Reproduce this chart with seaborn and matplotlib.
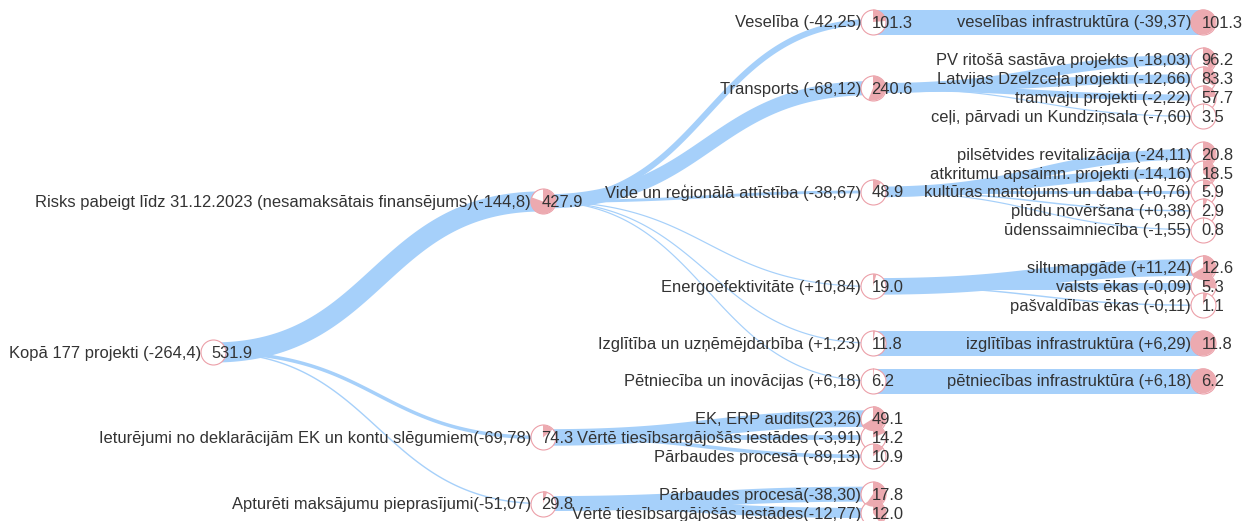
import numpy as np
import matplotlib
matplotlib.use("Agg")
import matplotlib.pyplot as plt
import seaborn as sns
import pandas as pd

# ---------------- data ----------------
node_labels = [
    "Kopā 177 projekti (-264,4)",
    "Risks pabeigt līdz 31.12.2023 (nesamaksātais finansējums)(-144,8)",
    "Veselība (-42,25)",
    "veselības infrastruktūra (-39,37)",
    "Transports (-68,12)",
    "PV ritošā sastāva projekts (-18,03)",
    "Latvijas Dzelzceļa projekti (-12,66)",
    "tramvaju projekti (-2,22)",
    "ceļi, pārvadi un Kundziņsala (-7,60)",
    "Vide un reģionālā attīstība (-38,67)",
    "pilsētvides revitalizācija (-24,11)",
    "atkritumu apsaimn. projekti (-14,16)",
    "kultūras mantojums un daba (+0,76)",
    "plūdu novēršana (+0,38)",
    "ūdenssaimniecība (-1,55)",
    "Energoefektivitāte (+10,84)",
    "siltumapgāde (+11,24)",
    "valsts ēkas (-0,09)",
    "pašvaldības ēkas (-0,11)",
    "Izglītība un uzņēmējdarbība (+1,23)",
    "izglītības infrastruktūra (+6,29)",
    "Pētniecība un inovācijas (+6,18)",
    "pētniecības infrastruktūra (+6,18)",
    "Ieturējumi no deklarācijām EK un kontu slēgumiem(-69,78)",
    "EK, ERP audits(23,26)",
    "Vērtē tiesībsargājošās iestādes (-3,91)",
    "Pārbaudes procesā (-89,13)",
    "Apturēti maksājumu pieprasījumi(-51,07)",
    "Pārbaudes procesā(-38,30)",
    "Vērtē tiesībsargājošās iestādes(-12,77)",
]
node_values = [
    531.9,
    427.9,
    101.3, 101.3,
    240.6, 96.2, 83.3, 57.7, 3.5,
    48.9, 20.8, 18.5, 5.9, 2.9, 0.8,
    19.0, 12.6, 5.3, 1.1,
    11.8, 11.8,
    6.2, 6.2,
    74.3, 49.1, 14.2, 10.9,
    29.8, 17.8, 12.0,
]
node_parents = [
    -1,
    0,
    1, 2,
    1, 4, 4, 4, 4,
    1, 9, 9, 9, 9, 9,
    1, 15, 15, 15,
    1, 19,
    1, 21,
    0, 23, 23, 23,
    0, 27, 27,
]

# ---------------- style ----------------
sns.set_theme(style="white")
plt.rcParams["font.family"] = ["Liberation Sans", "DejaVu Sans"]

BLUE = "#a6d0fa"
PINK = "#ecaab0"
PINK_EDGE = "#ec9fa8"
TEXT = "#333333"

W, H = 1244, 521
X0, DX = 213, 330          # horizontal layout
Y0, DY = 22, 18.885        # vertical layout (per separation unit)
R = 12.5                   # node radius (px)
BAND = 25.0                # full link width (px)
MIN_BAND = 1.2
FS = 11.9

n = len(node_labels)
children = [[] for _ in range(n)]
for i, p in enumerate(node_parents):
    if p >= 0:
        children[p].append(i)

depth = [0] * n
for i in range(n):
    d, p = 0, node_parents[i]
    while p >= 0:
        d += 1
        p = node_parents[p]
    depth[i] = d

# tidy-tree-like layout: leaves spaced 1 (siblings) or 2 (non-siblings)
units = [0.0] * n
state = {"prev": None, "pos": 0.0}


def layout(i):
    if not children[i]:
        prev = state["prev"]
        if prev is not None:
            state["pos"] += 1 if node_parents[prev] == node_parents[i] else 2
        units[i] = state["pos"]
        state["prev"] = i
    else:
        for c in children[i]:
            layout(c)
        units[i] = (units[children[i][0]] + units[children[i][-1]]) / 2


layout(0)
xs = np.array([X0 + DX * d for d in depth], dtype=float)
ys = np.array([Y0 + DY * u for u in units], dtype=float)

fig = plt.figure(figsize=(W / 100, H / 100), dpi=100)
ax = fig.add_axes([0, 0, 1, 1])

# links
t = np.linspace(0, 1, 120)
for i in range(n):
    p = node_parents[i]
    if p < 0:
        continue
    x0, y0, x1, y1 = xs[p], ys[p], xs[i], ys[i]
    xm = (x0 + x1) / 2
    bx = (1 - t) ** 3 * x0 + 3 * (1 - t) ** 2 * t * xm + 3 * (1 - t) * t ** 2 * xm + t ** 3 * x1
    by = (1 - t) ** 3 * y0 + 3 * (1 - t) ** 2 * t * y0 + 3 * (1 - t) * t ** 2 * y1 + t ** 3 * y1
    w_px = max(node_values[i] / node_values[p] * BAND, MIN_BAND)
    ax.plot(bx, by, color=BLUE, lw=w_px * 0.72, solid_capstyle="butt", zorder=1)

# node circles (white fill, pink outline)
df = pd.DataFrame({"x": xs, "y": ys})
sns.scatterplot(data=df, x="x", y="y", s=(2 * R * 0.72) ** 2, color="white",
                edgecolor=PINK_EDGE, linewidth=0.8, zorder=3, ax=ax, legend=False)
ax.set_xlim(0, W)
ax.set_ylim(H, 0)
ax.axis("off")

# pie wedges: share of parent value, clockwise from 12 o'clock
for i in range(n):
    p = node_parents[i]
    if p < 0:
        continue
    frac = min(node_values[i] / node_values[p], 1.0)
    if frac <= 0:
        continue
    th = np.linspace(0, 2 * np.pi * frac, max(int(200 * frac), 4))
    px = xs[i] + R * np.sin(th)
    py = ys[i] - R * np.cos(th)
    if frac < 0.999:
        px = np.concatenate([[xs[i]], px])
        py = np.concatenate([[ys[i]], py])
    ax.fill(px, py, color=PINK, lw=0, zorder=4)

# texts
for i in range(n):
    ax.text(xs[i] - R + 0.5, ys[i] + 1, node_labels[i], ha="right", va="center",
            fontsize=FS, color=TEXT, zorder=6)
    ax.text(xs[i] - 1.5, ys[i] + 1, f"{node_values[i]:.1f}", ha="left", va="center",
            fontsize=FS, color=TEXT, zorder=6)

fig.savefig("out.png", dpi=100)
